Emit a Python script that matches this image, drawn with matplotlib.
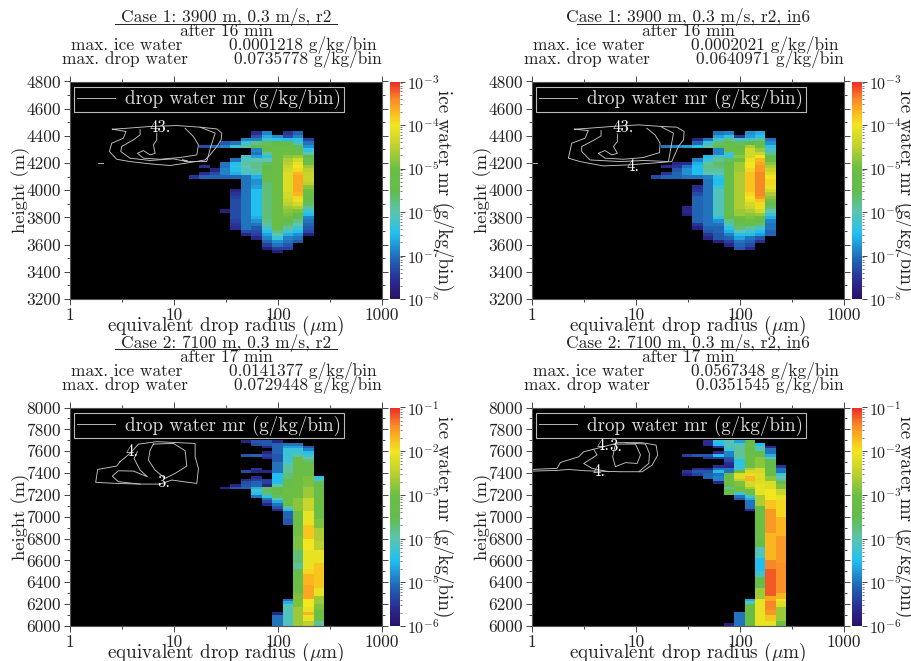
import numpy as np
import matplotlib
matplotlib.use("Agg")
import matplotlib.pyplot as plt
from matplotlib.colors import LinearSegmentedColormap, LogNorm
from matplotlib.ticker import FixedLocator, NullFormatter

plt.rcParams['font.family'] = ['cmr10', 'DejaVu Serif']
plt.rcParams['mathtext.fontset'] = 'cm'
plt.rcParams['axes.unicode_minus'] = False

# bin edges, equivalent drop radius (um), largest first
radius_edges = [278.6, 221.1, 175.5, 139.3, 110.6, 87.8, 69.7, 55.3, 43.9, 34.8, 27.7, 22.0, 17.4, 13.8]
# heights: first row top edge and row depth (m)
top_case1, top_case2 = 4435, 7700
row_depth = 25
nrows_case1, nrows_case2 = 36, 68

N = None
# log10 ice water mr, one entry per radius bin: (first row from the top, values going down)
case1_r2 = [
    (0, []),
    (2, [-7.4, -7.0, -6.8, -6.4, -6.0, -5.5, -5.3, -5.0, -4.7, -4.5, -4.4, -4.4, -4.4, -4.5, -4.8, -5.0, -5.1, -5.2, -5.3, -5.6, -5.9, -6.3, -6.5, -6.9, -7.0, -7.1, -7.2, -7.3, -7.8]),
    (0, [-7.1, -6.9, -6.4, -6.2, -5.4, -5.3, -5.1, -4.7, -4.3, -4.1, -4.0, -3.9, -3.7, -3.6, -3.6, -3.6, -3.6, -3.6, -3.7, -3.9, -4.1, -4.3, -4.6, -4.9, -5.2, -5.4, -5.8, -6.0, -6.3, -6.5, -6.8, -7.0, -7.2]),
    (0, [-7.5, -7.3, -6.5, -5.5, -5.2, -5.1, -5.0, -4.8, -4.6, -4.5, -4.4, -4.3, -4.2, -4.2, -4.2, -4.2, -4.2, -4.2, -4.3, -4.3, -4.4, -4.5, -4.7, -4.8, -4.9, -5.0, -5.3, -5.6, -5.9, -6.2, -6.6, -6.9, -7.0, -7.2, -7.4]),
    (1, [-6.8, -6.4, -5.5, -5.3, -5.2, -5.1, -5.1, -5.1] + [-5.1] * 18 + [-5.2, -5.4, -5.7, -6.0, -6.3, -6.8, -7.0, -7.4, -7.8]),
    (0, [-6.9, -6.6, -6.3, -5.6, -5.2, -5.4, -5.9, -6.4, -6.0, -5.6, -5.5, -5.4, -5.3, -5.2, -5.4] + [-5.7] * 11 + [-5.8, -5.9, -6.2, -6.5, -6.7, -6.9, -7.1, -7.4, -7.8]),
    (0, [-7.6, -7.2, -6.9, -5.8, -5.4, -6.9, -7.0, -6.7, -6.0, -5.8, -5.8, -5.9, -6.1, -6.6, -6.8, -6.8, -6.7] + [-6.5] * 8 + [-6.6, -6.8, -7.0, -7.2, -7.3, -7.4, -7.7]),
    (2, [-6.9, -6.3, -5.9, N, N, -6.2, -6.1, -5.9, -6.0, -6.1, -6.2, -7.0] + [-7.0] * 15 + [-7.3, -7.7]),
    (3, [-7.0, -6.3, N, N, N, -7.0, -6.5, -6.4, -6.5, -6.6, -7.1, N, N, N, -7.7, -7.5, -7.4, -7.3, -7.3, -7.3, -7.3, -7.3, -7.3, -7.4, -7.5, -7.6]),
    (3, [-7.2, -6.9, N, N, N, N, -7.0, -7.0, -6.9, -6.9, -7.1] + [N] * 9 + [-7.8]),
    (4, [-7.1] + [N] * 6 + [-7.7, -7.3, -7.1]),
    (4, [-7.3] + [N] * 5 + [-7.6, N, -7.6, -7.1]),
    (13, [-7.5]),
]
case1_r2_in6 = [
    (0, []),
    (2, [-7.0, -6.8, -6.4, -6.2, -5.9, -5.4, -5.2, -4.8, -4.6, -4.4, -4.2, -4.0, -3.9, -3.9, -4.1, -4.3, -4.6, -4.8, -5.0, -5.3, -5.7, -6.0, -6.3, -6.6, -6.9, -7.0, -7.0, -7.1, -7.1]),
    (0, [-6.6, -6.4, -5.9, -5.4, -5.0, -4.7, -4.4, -4.0, -3.7, -3.6, -3.5, -3.5, -3.4, -3.4, -3.4, -3.4, -3.4, -3.4, -3.4, -3.5, -3.8, -3.9, -4.1, -4.3, -4.7, -5.0, -5.3, -5.7, -6.2, -6.5, -6.7, -7.2, -7.6]),
    (0, [-6.8, -6.7, -6.2, -5.5, -4.6, -4.3, -4.3, -4.3, -4.1, -4.0, -4.0, -3.9, -3.8, -3.8, -3.8, -3.8, -3.8, -3.8, -3.9, -4.0, -4.1, -4.3, -4.4, -4.6, -4.8, -4.9, -5.0, -5.3, -5.9, -6.2, -6.5, -7.0, -7.1, -7.3, -7.6]),
    (1, [-7.5, -6.2, -5.6, -5.2, -5.1, -5.0, -4.8, -5.0, -4.7, -4.7, -4.7, -4.6, -4.6, -4.6, -4.6, -4.6, -4.6, -4.6, -4.6, -4.6, -4.6, -4.6, -4.7, -4.7, -5.0, -5.3, -5.3, -5.7, -6.0, -6.5, -6.7, -7.0, -7.1, -7.2]),
    (0, [-6.9, -6.4, -5.8, -5.3, -5.2, -5.3, -6.2, -6.3, -5.6, -5.5] + [-5.3] * 15 + [-5.5, -5.8, -6.1, -6.4, -6.6, -6.9, -7.1, -7.4, -7.7]),
    (0, [-7.0, -6.7, -6.2, -5.7, -5.5, -6.9, -6.9, -6.2, -5.9, -5.6, -5.7, -5.9, -6.0, -6.4, -6.5, -6.5, -6.3] + [-6.1] * 8 + [-6.4, -6.8, -7.0, -7.1, -7.1, -7.2, -7.2, -7.8]),
    (2, [-7.0, -6.3, -5.9, N, N, -6.5, -6.3, -5.9, -5.8, -5.9, -6.0, -6.9] + [-7.0] * 14 + [-7.1, -7.2, -7.5, -7.7]),
    (2, [-7.7, -7.1, -6.4, N, N, N, -6.9, -6.6, -6.5, -6.5, -6.5, -7.0, N, N, -7.6, -7.5, -7.3] + [-7.1] * 8 + [-7.5, -7.8]),
    (4, [-6.7] + [N] * 4 + [-7.6, -7.0, -6.8, -6.8, -7.0] + [N] * 8 + [-7.7, -7.7, -7.8]),
    (4, [-6.9] + [N] * 4 + [-7.7, -7.5, -7.2, -7.1, -7.1]),
    (4, [-7.0] + [N] * 5 + [-7.6, N, -7.5, -7.1]),
    (13, [-7.3]),
]
case2_r2 = [
    (13, [-4.4, -4.1, -3.6, -3.4] + [-3.1] * 12 + [-2.9] * 3 + [-2.6] * 5 + [-2.5] * 3 + [-2.1] * 5 + [-1.8] * 9 + [-2.1] * 3 + [-2.7] * 3 + [-2.9] * 2 + [-3.1] * 4 + [-3.9] * 2),
    (2, [-5.2, -4.9, -4.5, -4.2, -4.0, -3.7, -3.3] + [-3.1] * 4 + [-2.9] * 4 + [-2.7] * 4 + [-2.4] * 5 + [-2.1] * 5 + [-1.8] * 5 + [-2.0] * 4 + [-2.1] * 7 + [-1.9] * 2 + [-1.7] * 4 + [-1.6] * 5 + [-2.0] * 3 + [-2.1] * 2 + [-1.7] + [-2.1] * 2 + [-2.5] * 2),
    (1, [-5.0, -4.7, -4.3, -4.3, -3.9] + [-3.1] * 7 + [-3.0] * 8 + [-2.8] * 5 + [-3.0] * 9 + [-2.9] * 5 + [-3.7] * 5 + [-3.9] * 2 + [-3.3] * 4 + [-3.1] * 5 + [-2.9] * 5 + [-2.7] * 7),
    (1, [-5.0, -4.7] + [-4.3] * 5 + [-4.1] + [-3.9] * 3 + [-3.7] * 2 + [-3.3] * 3 + [-3.0] * 3 + [-3.1] * 3 + [-3.3, -3.9, -4.5] + [-5.1] * 3 + [-5.2] * 2 + [N] * 27 + [-5.0, -4.6] + [-4.1] * 8),
    (0, [-5.7] + [-5.1] * 4 + [-5.2] * 3 + [-5.0] * 4 + [-4.5] * 4 + [-4.0] + [-3.4] * 3 + [-3.6, -4.0, -4.6, -5.0, -5.2, -5.7] + [N] * 37 + [-5.7] + [-5.0] * 4),
    (0, [-5.2, -5.2, -5.7, N, -5.7, -5.4, -5.6, N, N, N, N, -5.7, N, N, -5.4, -5.4, -5.7, -3.6, -3.6, -3.7, -4.4, -5.0, -5.3, -5.7]),
    (0, [-5.2, -5.3, N, N, N, -5.1, N, N, N, N, -5.5, -5.7, N, -5.6, -5.4, -5.1, -5.1, -4.6, -4.2, -4.5, -5.0]),
    (0, [-5.7, N, N, N, N, -5.2, N, N, N, N, N, -5.3, N, N, -5.6, -5.3, -5.2, -5.1]),
    (16, [-5.7, -5.2]),
    (17, [-5.7]),
]
case2_r2_in6 = [
    (9, [-5.5, -5.0, -5.0, -4.3, -4.0, -3.9, -3.1, -2.9, -2.9, -2.4, -2.4, -2.1, -2.1] + [-1.9] * 6 + [-1.7] * 7 + [-1.5] * 10 + [-1.45] * 11 + [-1.7] * 2 + [-2.0, -2.2, -2.2] + [-2.7] * 5 + [-3.1] * 2),
    (2, [-5.6, -5.0, -5.0, -4.6, -4.1] + [-3.5] * 3 + [-3.2] * 3 + [-2.8] * 2 + [-2.2] * 3 + [-2.0] * 4 + [-1.8] * 3 + [-1.5] * 9 + [-1.7] * 10 + [-1.4] * 3 + [-1.2] * 10 + [-1.6] * 2 + [-1.4] * 3 + [-1.5] * 2 + [-1.8] * 2 + [-2.1] * 2),
    (1, [-4.5, -4.1, -4.1, -3.3, -3.3, -2.8, -2.8, -2.8, -2.8, -2.3, -2.3] + [-2.2] * 4 + [-2.1] * 4 + [-2.6] * 4 + [-3.1] * 12 + [-3.4] * 3 + [-4.1] * 4 + [-4.5] * 5 + [-4.2] * 2 + [-3.4] * 4 + [-2.7] * 4 + [-2.1] * 10),
    (0, [-3.5] + [-3.1] * 4 + [-3.0] * 3 + [-3.1] * 2 + [-2.6, -2.3, -1.9, -1.7, -1.7, -2.3, -2.3, -2.6, -3.0, -3.0, -4.2, -4.6, -5.0, -5.0, -5.0, -5.6] + [N] * 32 + [-4.6, -4.1] + [-3.2] * 8),
    (0, [-4.7, -4.1] + [-3.9] * 5 + [-4.4] * 2 + [-4.3] * 2 + [-3.4, -2.2, -2.2, -2.5, -2.9, -2.9, -3.0, -3.0, -4.3, -5.0, -5.2] + [N] * 41 + [-5.0] * 5),
    (0, [-4.1, -4.1, -4.1, -4.3, -4.9, -4.9, -5.2, -5.3, -5.6, -5.7, -5.0, -5.0, -3.3, -3.3, -3.0, -3.0, -3.3, -3.9, -3.4, -3.2] + [N] * 47 + [-5.8]),
    (0, [-4.4, -4.5, -5.5, N, -5.6, -4.5, -5.4, N, N, -5.6, -5.0, -4.5, -5.0, -4.9, -4.9, -5.7]),
    (0, [-5.6, -5.6, N, N, N, -5.2, -5.5, N, N, N, -5.7, -5.2, -5.1, -5.1]),
    (5, [-5.2, N, N, N, N, -5.6, -5.2, -5.4]),
    (5, [-5.4, N, N, N, N, N, -5.5, -5.8]),
]

# drop water contours, log10 radius and height (m)
c1a_logr = [.407, .545, .770, 1.027, 1.251, 1.412, 1.460, 1.453, 1.412, 1.347, 1.299, 1.155, .962, .770, .577, .449, .379, .401, .513, .539, .407]
c1a_h = [4449, 4456, 4469, 4476, 4464, 4451, 4420, 4371, 4322, 4260, 4223, 4204, 4182, 4194, 4211, 4228, 4285, 4346, 4383, 4432, 4449]
c1b_logr = [.674, .674, .610, .497, .488, .577, .770, .995, 1.123, 1.315, 1.354, 1.396, 1.251]
c1b_h = [4444, 4407, 4371, 4322, 4285, 4236, 4219, 4231, 4211, 4211, 4322, 4420, 4464]
c1c_logr = [.834, .834, .802, .818, .770, .706, .648, .706, .866, 1.059, 1.219, 1.235, 1.187, 1.107]
c1c_h = [4420, 4371, 4334, 4272, 4260, 4292, 4272, 4236, 4228, 4241, 4260, 4334, 4395, 4456]
c1d_logr = [.273, .321]
c1d_h = [4204, 4204]
c1e_logr = [1.084, 1.129, 1.107, 1.084]
c1e_h = [4223, 4218, 4212, 4223]

c2a_logr = [.407, .542, .767, 1.024, 1.248, 1.392, 1.463, 1.457, 1.408, 1.344, 1.232, .943, .687, .462, .350, .382, .510, .542, .407]
c2a_h = [4449, 4456, 4469, 4481, 4469, 4464, 4432, 4371, 4322, 4211, 4204, 4187, 4179, 4211, 4236, 4346, 4383, 4439, 4449]
c2b_logr = [.664, .664, .590, .478, .478, .558, .847, 1.072, 1.312, 1.360, 1.248]
c2b_h = [4439, 4400, 4366, 4322, 4285, 4223, 4211, 4219, 4211, 4420, 4464]
c2c_logr = [.821, .821, .783, .821, .767, .703, .638, .703, .879, 1.072, 1.225, 1.232, 1.184, 1.104]
c2c_h = [4415, 4358, 4322, 4272, 4260, 4292, 4272, 4236, 4228, 4241, 4277, 4346, 4407, 4456]
c2d_logr = [0, .045]
c2d_h = [4199, 4199]

c3a_logr = [.481, .577, .658, .834, 1.203, 1.203, 1.235, 1.219, 1.091, .979, .866, .674, .449, .247, .266, .449, .481]
c3a_h = [7504, 7580, 7665, 7687, 7671, 7549, 7442, 7305, 7321, 7336, 7299, 7299, 7305, 7315, 7433, 7464, 7504]
c3b_logr = [.802, .995, 1.107, 1.123, 1.011, .914, .818, .754, .770, .802]
c3b_h = [7665, 7671, 7604, 7464, 7397, 7351, 7427, 7519, 7610, 7665]
c3c_logr = [.648, .616, .674, .744, .610, .465, .407, .465, .674]
c3c_h = [7595, 7534, 7427, 7366, 7418, 7421, 7372, 7321, 7299]

c4a_logr = [0, .241, .273, .449, .497, .626, .834, 1.059, 1.193, 1.209, 1.155, 1.059, .850, .513, .353, .241, 0]
c4a_h = [7433, 7443, 7497, 7549, 7595, 7626, 7678, 7678, 7656, 7565, 7473, 7412, 7412, 7421, 7433, 7424, 7418]
c4b_logr = [.898, 1.091, 1.129, 1.123, 1.027]
c4b_h = [7678, 7665, 7580, 7488, 7412]
c4c_logr = [.802, .995, 1.043, 1.011, .898, .802, .776, .802]
c4c_h = [7665, 7665, 7565, 7488, 7495, 7458, 7549, 7665]
c4d_logr = [.594, .626, .497, .577, .738]
c4d_h = [7617, 7565, 7488, 7443, 7412]

titles = ["Case 1: 3900 m, 0.3 m/s, r2", "Case 1: 3900 m, 0.3 m/s, r2, in6",
          "Case 2: 7100 m, 0.3 m/s, r2", "Case 2: 7100 m, 0.3 m/s, r2, in6"]
after = ["after 16 min", "after 16 min", "after 17 min", "after 17 min"]
max_ice = ["0.0001218", "0.0002021", "0.0141377", "0.0567348"]
max_drop = ["0.0735778", "0.0640971", "0.0729448", "0.0351545"]

contours = [
    [(c1a_logr, c1a_h), (c1b_logr, c1b_h), (c1c_logr, c1c_h), (c1d_logr, c1d_h), (c1e_logr, c1e_h)],
    [(c2a_logr, c2a_h), (c2b_logr, c2b_h), (c2c_logr, c2c_h), (c2d_logr, c2d_h)],
    [(c3a_logr, c3a_h), (c3b_logr, c3b_h), (c3c_logr, c3c_h)],
    [(c4a_logr, c4a_h), (c4b_logr, c4b_h), (c4c_logr, c4c_h), (c4d_logr, c4d_h)],
]
contour_labels = [
    [(.866, 4464, "43.")],
    [(.873, 4464, "43."), (.975, 4179, "4.")],
    [(.594, 7595, "4."), (.898, 7315, "3.")],
    [(.642, 7412, "4."), (.680, 7650, "4."), (.808, 7641, "3.")],
]

cmap = LinearSegmentedColormap.from_list("ice", [
    (0.0, "#2a1268"), (0.08, "#2a2a90"), (0.18, "#2164b4"), (0.30, "#22c0f0"),
    (0.40, "#5cc4b0"), (0.50, "#62bc4c"), (0.60, "#6cbe44"), (0.70, "#bcd030"),
    (0.80, "#f2e61e"), (0.87, "#fbb020"), (0.92, "#f78a28"), (1.0, "#ee2a24")])


def make_grid(columns, nrows):
    grid = np.full((nrows, len(radius_edges) - 1), np.nan)
    for k, (first, vals) in enumerate(columns):
        for i, v in enumerate(vals):
            if v is not None and first + i < nrows:
                grid[first + i, k] = 10.0 ** v
    return grid


W, H = 912, 661
fig = plt.figure(figsize=(W / 100, H / 100), dpi=100)
ink = "#222222"
fs = 12.5
line_grey = "#c4c4c4"


def px_axes(x0, y0, x1, y1):
    return fig.add_axes([x0 / W, 1 - y1 / H, (x1 - x0) / W, (y1 - y0) / H])


panels = [(70, 81.5, 299), (532, 81.5, 299), (70, 407.5, 626), (532, 407.5, 626)]
grids = [case1_r2, case1_r2_in6, case2_r2, case2_r2_in6]

for p, (x0, y0, y1) in enumerate(panels):
    first_case = p < 2
    ax = px_axes(x0, y0, x0 + 312, y1)
    ax.set_facecolor("black")
    nrows = nrows_case1 if first_case else nrows_case2
    top = top_case1 if first_case else top_case2
    h_edges = top - row_depth * np.arange(nrows + 1)
    vmin, vmax = (1e-8, 1e-3) if first_case else (1e-6, 1e-1)
    mesh = ax.pcolormesh(radius_edges, h_edges, make_grid(grids[p], nrows), cmap=cmap,
                         norm=LogNorm(vmin, vmax), shading="flat", rasterized=True)
    for lr, hh in contours[p]:
        ax.plot(10 ** np.array(lr), hh, color=line_grey, lw=0.65)
    for lr, hh, s in contour_labels[p]:
        ax.text(10 ** lr, hh, s, color="white", fontsize=12, ha="center", va="center")
    ax.plot([], [], color=line_grey, lw=0.65, label="drop water mr (g/kg/bin)")
    ax.set_xscale("log")
    ax.set_xlim(1, 1000)
    if first_case:
        ax.set_ylim(3200, 4800)
        ax.set_yticks(np.arange(3200, 4801, 200))
        ax.yaxis.set_minor_locator(FixedLocator(np.arange(3300, 4800, 200)))
    else:
        ax.set_ylim(6000, 8000)
        ax.set_yticks(np.arange(6000, 8001, 200))
        ax.yaxis.set_minor_locator(FixedLocator(np.arange(6100, 8000, 200)))
    ax.set_xticks([1, 10, 100, 1000])
    ax.set_xticklabels(["1", "10", "100", "1000"])
    ax.xaxis.set_minor_locator(FixedLocator([10 ** .5, 10 ** 1.5, 10 ** 2.5]))
    ax.xaxis.set_minor_formatter(NullFormatter())
    ax.tick_params(which="major", direction="out", length=4.5, width=0.7, color="#444444",
                   labelsize=fs, labelcolor=ink, top=True, right=True, pad=2)
    ax.tick_params(which="minor", direction="out", length=2.2, width=0.7, color="#444444",
                   top=True, right=True)
    for s in ax.spines.values():
        s.set_color("#555555")
        s.set_linewidth(0.8)
    ax.set_xlabel(r"equivalent drop radius ($\mu$m)", fontsize=13.8, color=ink, labelpad=-6.5)
    ax.set_ylabel("height (m)", fontsize=13.4, color=ink, labelpad=-3)
    leg = ax.legend(loc="upper left", bbox_to_anchor=(0.014, 0.977), borderaxespad=0, fontsize=13.7,
                    fancybox=False, facecolor="black", edgecolor="#bbbbbb", framealpha=1,
                    labelcolor="#dddddd", handlelength=2.0, handletextpad=0.5, borderpad=0.15)
    leg.get_frame().set_linewidth(0.8)

    cax = px_axes(x0 + 320, y0, x0 + 330, y1)
    cb = fig.colorbar(mesh, cax=cax)
    cb.ax.tick_params(which="major", length=3.5, width=0.7, color="#444444", labelsize=11.5, labelcolor=ink, pad=1.5)
    cb.ax.tick_params(which="minor", length=1.5, width=0.5, color="#444444")
    cb.outline.set_linewidth(0)
    cb.set_label("ice water mr (g/kg/bin)", rotation=-90, fontsize=13.8, color=ink, va="center")
    cb.ax.yaxis.set_label_coords(5.3, 0.5)

    # header lines above the panel
    cx = x0 + 156
    y_top = 17 if first_case else 343
    step = 14
    for dy, s in ((0, titles[p]), (step, after[p])):
        fig.text(cx / W, 1 - (y_top + dy) / H, s, fontsize=fs, color=ink, ha="center", va="center")
    fig.add_artist(plt.Line2D([(cx - 111) / W, (cx + 111) / W], [1 - (y_top + 6.5) / H] * 2, color=ink, lw=0.7))
    fig.text((x0 + 1) / W, 1 - (y_top + 2 * step) / H, "max. ice water", fontsize=fs, color=ink, va="center")
    fig.text((x0 + 159) / W, 1 - (y_top + 2 * step) / H, max_ice[p] + " g/kg/bin", fontsize=fs, color=ink, va="center")
    fig.text((x0 - 8) / W, 1 - (y_top + 3 * step) / H, "max. drop water", fontsize=fs, color=ink, va="center")
    fig.text((x0 + 164) / W, 1 - (y_top + 3 * step) / H, max_drop[p] + " g/kg/bin", fontsize=fs, color=ink, va="center")

fig.savefig("out.png", dpi=100)
